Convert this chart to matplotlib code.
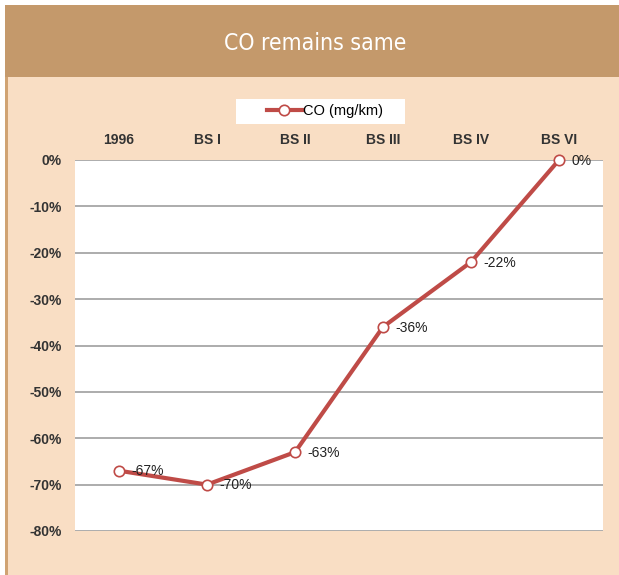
import matplotlib.pyplot as plt
from matplotlib.patches import Rectangle

# CO change relative to BS VI norm
stages = ["1996", "BS I", "BS II", "BS III", "BS IV", "BS VI"]
co_change = [-67, -70, -63, -36, -22, 0]
yticks = [0, -10, -20, -30, -40, -50, -60, -70, -80]

brown = "#C4996B"
peach = "#F9DEC4"
red = "#BF4B47"

plt.rcParams['font.family'] = ['Liberation Sans', 'DejaVu Sans']

fig = plt.figure(figsize=(6.19, 5.75), dpi=100)
W, H = 619, 575


def px_rect(x0, y0, w, h, **kw):
    # rectangle given in pixels from the top-left corner
    r = Rectangle((x0 / W, 1 - (y0 + h) / H), w / W, h / H, transform=fig.transFigure,
                  edgecolor="none", **kw)
    fig.patches.append(r)
    return r


# background panels
px_rect(5, 77, W - 5, H - 77, facecolor=peach, zorder=-10)
px_rect(5, 5, W - 5, 72, facecolor=brown, zorder=-10)
px_rect(5, 77, 2.5, H - 77, facecolor="#D0A373", zorder=-9)
px_rect(236, 99, 169, 25, facecolor="white", zorder=-8)
fig.text(315 / W, 1 - 43 / H, "CO remains same", color="white", fontsize=16.5,
         ha="center", va="center", family="DejaVu Sans", fontstretch="condensed")

ax = fig.add_axes([75 / W, 1 - 531 / H, 528 / W, 371 / H])
ax.set_facecolor("white")
x = range(len(stages))
ax.plot(x, co_change, color=red, lw=3, marker="o", ms=7.5, mfc="white", mec=red, mew=1.2,
        label="CO (mg/km)", zorder=3, clip_on=False)
for xi, v in zip(x, co_change):
    ax.annotate(f"{v}%", (xi, v), xytext=(9, -0.5), textcoords="offset points",
                va="center", ha="left", fontsize=10, color="#222222", zorder=4)

ax.set_xlim(-0.5, len(stages) - 0.5)
ax.set_ylim(-80, 0)
ax.set_yticks(yticks)
ax.set_yticklabels([f"{t}%" for t in yticks])
ax.set_xticks(list(x))
ax.set_xticklabels(stages)
ax.xaxis.tick_top()
ax.tick_params(length=0, labelsize=10, colors="#333333", pad=9.4)
for lab in ax.get_xticklabels() + ax.get_yticklabels():
    lab.set_fontweight("bold")
ax.grid(axis="y", color="#A6A6A6", lw=1.3)
ax.set_axisbelow(True)
for s in ax.spines.values():
    s.set_visible(False)

leg = ax.legend(loc="center", bbox_to_anchor=(325 / W, 1 - 111.5 / H), bbox_transform=fig.transFigure,
                frameon=False, fontsize=10.5, handlelength=2.4, borderpad=0.2,
                handletextpad=0.1)

fig.savefig("out.png", dpi=100, facecolor="white")
